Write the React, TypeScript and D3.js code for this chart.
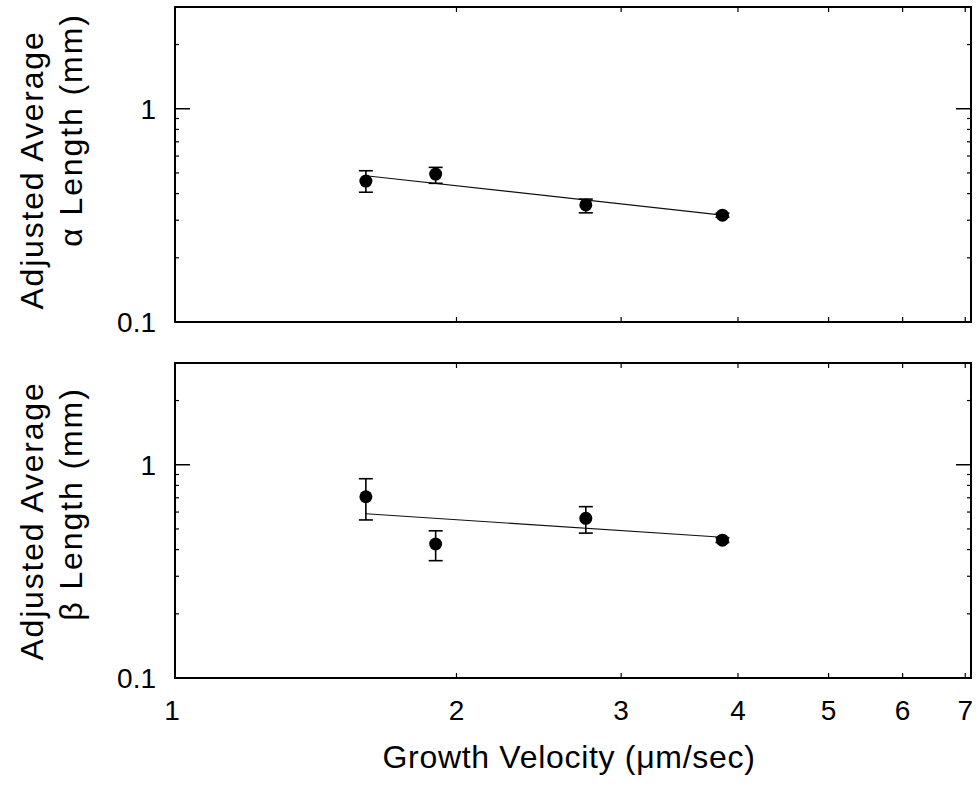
import React from "react";
import * as d3 from "d3";

const velocity = [1.6, 1.9, 2.75, 3.85];

const alphaMean = [0.458, 0.494, 0.354, 0.317];
const alphaUpper = [0.512, 0.531, 0.377, 0.324];
const alphaLower = [0.406, 0.447, 0.325, 0.31];
const alphaFitX = [1.6, 3.85];
const alphaFitY = [0.485, 0.317];

const betaMean = [0.708, 0.425, 0.561, 0.443];
const betaUpper = [0.86, 0.49, 0.636, 0.455];
const betaLower = [0.551, 0.355, 0.478, 0.432];
const betaFitX = [1.6, 3.85];
const betaFitY = [0.589, 0.457];

const xTicks = [1, 2, 3, 4, 5, 6, 7];
const yMajorTicks = [0.1, 1];
const yMinorTicks = [0.2, 0.3, 0.4, 0.5, 0.6, 0.7, 0.8, 0.9, 2];

const FONT = "'Liberation Sans', Arial, Helvetica, sans-serif";

const left = 175;
const right = 971;

const x = d3.scaleLog().domain([1, 7.1]).range([left, right]);

type PanelProps = {
  top: number;
  bottom: number;
  mean: number[];
  upper: number[];
  lower: number[];
  fitX: number[];
  fitY: number[];
  greek: string;
  line1Y: number;
  line2Y: number;
  showXLabels: boolean;
};

function Panel(p: PanelProps) {
  const y = d3.scaleLog().domain([0.1, 3]).range([p.bottom, p.top]);
  const line = d3
    .line<number>()
    .x((d, i) => x(p.fitX[i]))
    .y((d) => y(d));
  return (
    <g>
      {/* fit line */}
      <path d={line(p.fitY) || ""} fill="none" stroke="#111" strokeWidth={1.2} />
      {/* error bars */}
      {velocity.map((v, i) => (
        <g key={"e" + i} stroke="#000" strokeWidth={1.6}>
          <line x1={x(v)} x2={x(v)} y1={y(p.upper[i])} y2={y(p.lower[i])} />
          <line x1={x(v) - 7} x2={x(v) + 7} y1={y(p.upper[i])} y2={y(p.upper[i])} />
          <line x1={x(v) - 7} x2={x(v) + 7} y1={y(p.lower[i])} y2={y(p.lower[i])} />
        </g>
      ))}
      {velocity.map((v, i) => (
        <circle key={"c" + i} cx={x(v)} cy={y(p.mean[i])} r={6.5} fill="#000" />
      ))}
      {/* y ticks */}
      {yMajorTicks.map((t) => (
        <g key={"ym" + t} stroke="#000" strokeWidth={1.5}>
          <line x1={left} x2={left + 15} y1={y(t)} y2={y(t)} />
          <line x1={right} x2={right - 15} y1={y(t)} y2={y(t)} />
        </g>
      ))}
      {yMinorTicks.map((t) => (
        <g key={"yn" + t} stroke="#000" strokeWidth={1.2}>
          <line x1={left} x2={left + 4} y1={y(t)} y2={y(t)} />
          <line x1={right} x2={right - 4} y1={y(t)} y2={y(t)} />
        </g>
      ))}
      {/* x ticks */}
      {xTicks.slice(1).map((t) => (
        <g key={"xt" + t} stroke="#000" strokeWidth={1.2}>
          <line x1={x(t)} x2={x(t)} y1={p.bottom} y2={p.bottom - 5} />
          <line x1={x(t)} x2={x(t)} y1={p.top} y2={p.top + 5} />
        </g>
      ))}
      {/* frame */}
      <rect
        x={left}
        y={p.top}
        width={right - left}
        height={p.bottom - p.top}
        fill="none"
        stroke="#000"
        strokeWidth={2}
      />
      {/* y tick labels */}
      {yMajorTicks.map((t) => (
        <text
          key={"yl" + t}
          x={156}
          y={y(t)}
          dy="0.36em"
          textAnchor="end"
          fontSize={28}
          fontFamily={FONT}
          fill="#000"
        >
          {t === 1 ? "1" : "0.1"}
        </text>
      ))}
      {/* y title */}
      <text
        transform={`translate(43,${p.line1Y}) rotate(-90)`}
        textAnchor="middle"
        fontSize={32}
        fontFamily={FONT}
        letterSpacing={1.8}
        fill="#000"
      >
        Adjusted Average
      </text>
      <text
        transform={`translate(82,${p.line2Y}) rotate(-90)`}
        textAnchor="middle"
        fontSize={32}
        fontFamily={FONT}
        letterSpacing={1.9}
        fill="#000"
      >
        {p.greek + " Length (mm)"}
      </text>
      {p.showXLabels &&
        xTicks.map((t) => (
          <text
            key={"xl" + t}
            x={t === 1 ? x(t) - 3 : x(t)}
            y={710}
            dy="0.36em"
            textAnchor="middle"
            fontSize={28}
            fontFamily={FONT}
            fill="#000"
          >
            {String(t)}
          </text>
        ))}
    </g>
  );
}

export default function App() {
  return (
    <svg
      width={979}
      height={796}
      style={{ position: "absolute", left: 0, top: 0, background: "#fff" }}
    >
      <rect x={0} y={0} width={979} height={796} fill="#fff" />
      <Panel
        top={7}
        bottom={322}
        mean={alphaMean}
        upper={alphaUpper}
        lower={alphaLower}
        fitX={alphaFitX}
        fitY={alphaFitY}
        greek="α"
        line1Y={170}
        line2Y={130}
        showXLabels={false}
      />
      <Panel
        top={363}
        bottom={678}
        mean={betaMean}
        upper={betaUpper}
        lower={betaLower}
        fitX={betaFitX}
        fitY={betaFitY}
        greek="β"
        line1Y={521}
        line2Y={504}
        showXLabels={true}
      />
      <text
        x={569}
        y={768}
        textAnchor="middle"
        fontSize={32}
        fontFamily={FONT}
        letterSpacing={0.7}
        fill="#000"
      >
        Growth Velocity (μm/sec)
      </text>
    </svg>
  );
}
